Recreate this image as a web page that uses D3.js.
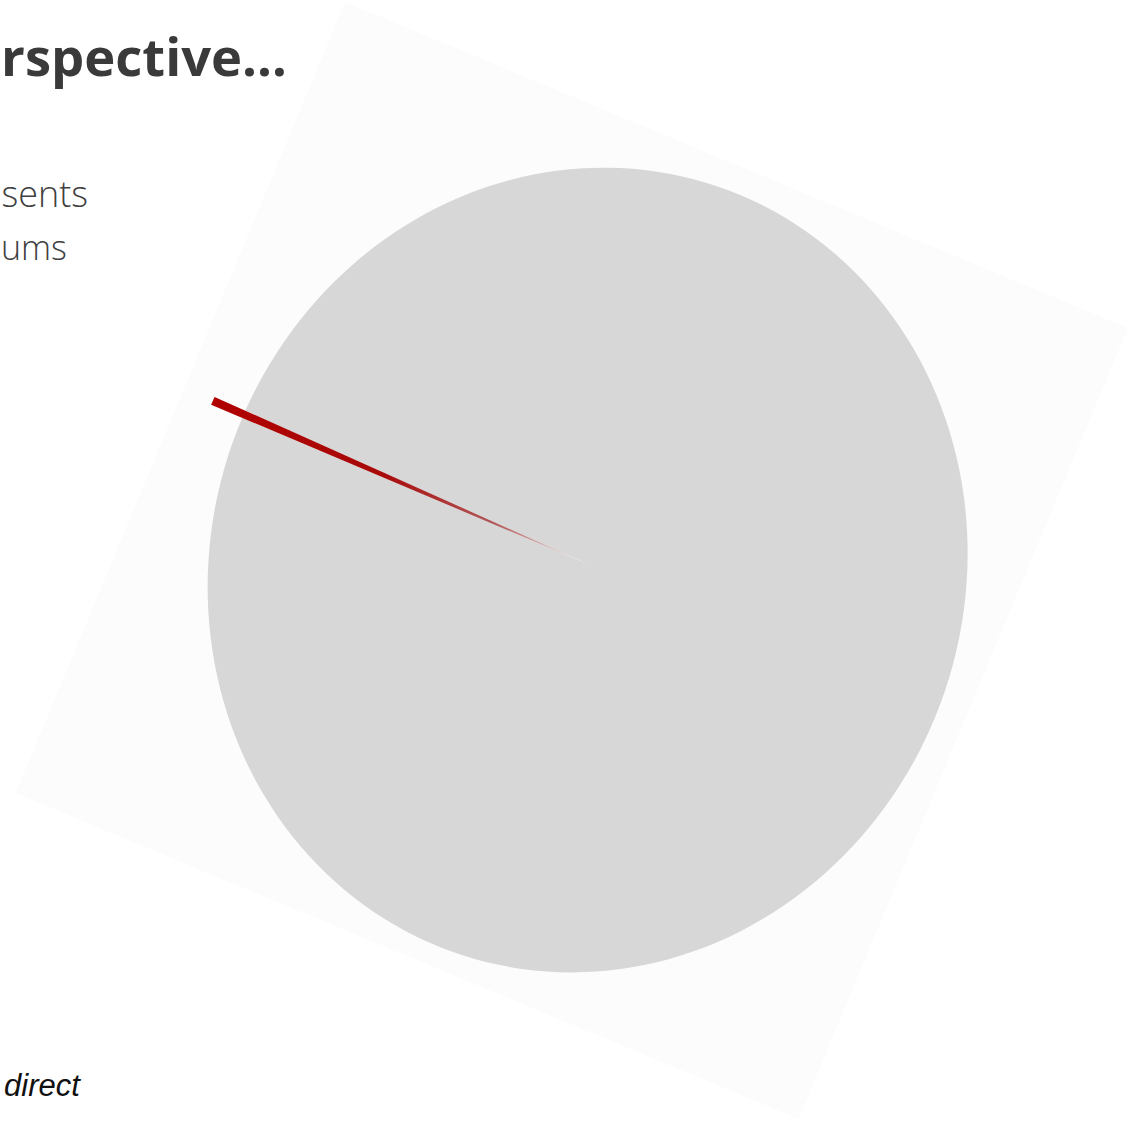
<!DOCTYPE html>
<html>
<head>
<meta charset="utf-8">
<script src="https://cdn.jsdelivr.net/npm/d3@7"></script>
<style>
  html, body { margin: 0; padding: 0; background: #ffffff; }
  svg { display: block; }
</style>
</head>
<body>
<div id="chart"></div>
<script>
// pie data
var categories = ["Rest", "Highlighted"];
var values = [99.7, 0.3];
var colors = ["#d7d7d7", "#b00000"];

var width = 1147, height = 1122;

var svg = d3.select("#chart").append("svg")
    .attr("width", width)
    .attr("height", height);

var defs = svg.append("defs");

// faint tilted card behind the pie
svg.append("rect")
    .attr("x", -424).attr("y", -428)
    .attr("width", 848).attr("height", 857)
    .attr("transform", "translate(572,560) rotate(22.6)")
    .attr("fill", "#fcfcfc");

// shrink a right-anchored text so it stays inside the left edge
function fitLeft(sel, endX) {
    var len = sel.node().getComputedTextLength();
    var size = +sel.attr("font-size");
    if (len > endX - 1) {
        sel.attr("font-size", size * (endX - 1) / len);
    }
}

// title and side text (cropped slide)
var title = svg.append("text")
    .attr("x", 287).attr("y", 76)
    .attr("text-anchor", "end")
    .attr("font-family", "'Open Sans', sans-serif")
    .attr("font-weight", 700)
    .attr("font-size", 56)
    .attr("fill", "#3a3a3a")
    .text("rspective…");
fitLeft(title, 287);

var line1 = svg.append("text")
    .attr("x", 88).attr("y", 207)
    .attr("text-anchor", "end")
    .attr("font-family", "'Open Sans', sans-serif")
    .attr("font-weight", 300)
    .attr("font-size", 36)
    .attr("fill", "#404040")
    .text("sents");
fitLeft(line1, 88);

svg.append("text")
    .attr("x", 1).attr("y", 260)
    .attr("font-family", "'Open Sans', sans-serif")
    .attr("font-weight", 300)
    .attr("font-size", 34)
    .attr("fill", "#404040")
    .text("ums");

svg.append("text")
    .attr("x", 4).attr("y", 1096)
    .attr("font-family", "'Liberation Sans', Arial, sans-serif")
    .attr("font-style", "italic")
    .attr("font-size", 31)
    .attr("fill", "#111111")
    .text("direct");

// pie, drawn in unit space and skewed into the photographed ellipse
var redAngle = 294.4 * Math.PI / 180;
var total = d3.sum(values);
var frac = values[1] / total;
var start = redAngle - 2 * Math.PI * (1 - frac / 2);

var pie = d3.pie().sort(null)
    .startAngle(start)
    .endAngle(start + 2 * Math.PI);
var arcs = pie(values);

var arcBase = d3.arc().innerRadius(0).outerRadius(1);
var arcRed = d3.arc().innerRadius(0).outerRadius(1.09);

var pieG = svg.append("g")
    .attr("transform", "matrix(380,-17,0,402,590,565)");

var tipX = 1.09 * Math.sin(redAngle), tipY = -1.09 * Math.cos(redAngle);
var grad = defs.append("linearGradient")
    .attr("id", "redFade")
    .attr("gradientUnits", "userSpaceOnUse")
    .attr("x1", tipX).attr("y1", tipY)
    .attr("x2", 0).attr("y2", 0);
grad.append("stop").attr("offset", "0%").attr("stop-color", "#b00000");
grad.append("stop").attr("offset", "45%").attr("stop-color", "#a80a0a");
grad.append("stop").attr("offset", "75%").attr("stop-color", "#b05a5a");
grad.append("stop").attr("offset", "100%").attr("stop-color", "#ececec");

pieG.selectAll("path")
    .data(arcs)
    .enter()
    .append("path")
    .attr("d", function (d, i) { return i === 1 ? arcRed(d) : arcBase(d); })
    .attr("fill", function (d, i) { return i === 1 ? "url(#redFade)" : colors[i]; });
</script>
</body>
</html>
